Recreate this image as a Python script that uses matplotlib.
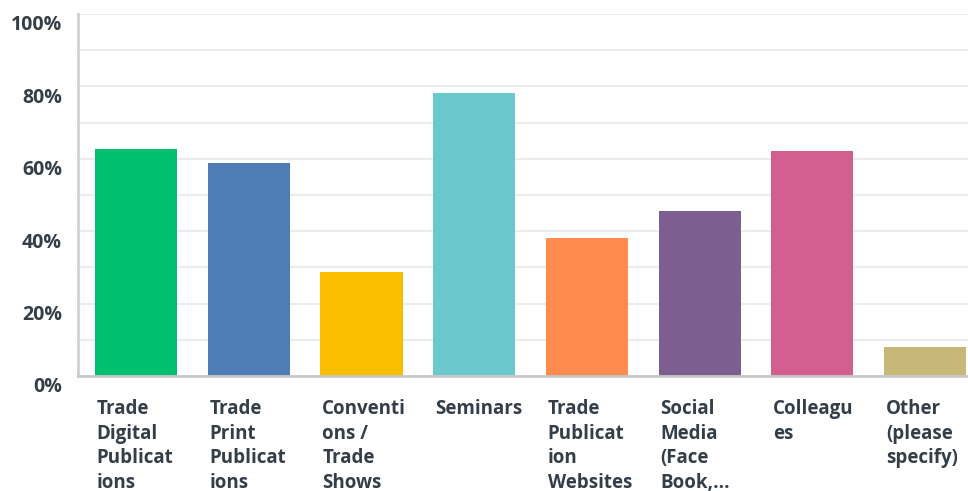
import matplotlib
matplotlib.use("Agg")
import matplotlib.pyplot as plt
from matplotlib.transforms import ScaledTranslation, blended_transform_factory

# Survey responses: share of respondents choosing each source
categories = [
    "Trade\nDigital\nPublicat\nions",
    "Trade\nPrint\nPublicat\nions",
    "Conventi\nons /\nTrade\nShows",
    "Seminars",
    "Trade\nPublicat\nion\nWebsites",
    "Social\nMedia\n(Face\nBook,...",
    "Colleagu\nes",
    "Other\n(please\nspecify)",
]
values = [62.7, 58.8, 28.7, 78.2, 38.1, 45.6, 62.2, 8.0]
colors = ["#00bf6f", "#507cb6", "#f9be00", "#6bc8cd",
          "#ff8b4f", "#7d5e90", "#d25f90", "#c7b879"]
y_ticks = [0, 20, 40, 60, 80, 100]
y_ticklabels = ["0%", "20%", "40%", "60%", "80%", "100%"]

text_color = "#333e48"
font = "Open Sans"

W, H = 968, 491
fig = plt.figure(figsize=(W / 100, H / 100), dpi=100)
ax = fig.add_axes([78 / W, (H - 376) / H, (W - 78) / W, (376 - 14) / H])

bar_width = 0.728
x = list(range(len(values)))
ax.bar(x, values, width=bar_width, color=colors, zorder=3)

ax.set_xlim(-0.515, 7.38)
ax.set_ylim(0, 100)

# light horizontal grid every 10%
for g in range(10, 101, 10):
    ax.axhline(g, color="#ececec", lw=1.5, zorder=1)

ax.set_yticks(y_ticks)
ax.set_yticklabels(y_ticklabels, fontsize=14, color=text_color,
                   family=font, fontweight="bold")
ax.tick_params(axis="y", length=0, pad=11.5)
for lbl in ax.get_yticklabels():
    lbl.set_transform(lbl.get_transform() + ScaledTranslation(0, -9 / 100, fig.dpi_scale_trans))
ax.set_xticks([])

for side in ["top", "right"]:
    ax.spines[side].set_visible(False)
ax.spines["left"].set_color("#d0d0d0")
ax.spines["left"].set_linewidth(2)
ax.spines["bottom"].set_color("#c8c8c8")
ax.spines["bottom"].set_linewidth(2)
ax.spines["left"].set_zorder(4)
ax.spines["bottom"].set_zorder(4)

# left-aligned wrapped category labels below each bar
trans = blended_transform_factory(ax.transData, ax.transAxes)
for i, cat in enumerate(categories):
    ax.text(i - bar_width / 2 + 0.015, -0.064, cat, transform=trans,
            ha="left", va="top", fontsize=13.5, color=text_color,
            family=font, fontweight="bold", linespacing=1.3)

fig.savefig("out.png", dpi=100)
